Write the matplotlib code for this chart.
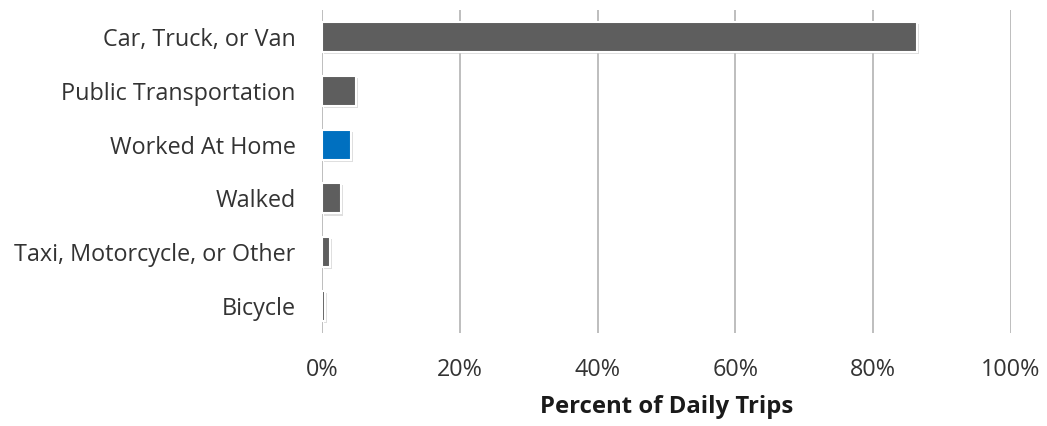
import matplotlib.pyplot as plt
import matplotlib.patheffects as pe
from matplotlib.ticker import PercentFormatter

# Data
modes = ['Car, Truck, or Van', 'Public Transportation', 'Worked At Home',
         'Walked', 'Taxi, Motorcycle, or Other', 'Bicycle']
shares = [86.3, 4.9, 4.2, 2.7, 1.1, 0.5]
colors = ['#5e5e5e', '#5e5e5e', '#0070C0', '#5e5e5e', '#5e5e5e', '#5e5e5e']
ticks = [0, 20, 40, 60, 80, 100]

plt.rcParams['font.family'] = ['Open Sans', 'DejaVu Sans']

fig = plt.figure(figsize=(10.47, 4.26), dpi=100)
ax = fig.add_axes([0.3075, 0.2183, 0.6581, 0.7582])

ypos = range(len(modes))
bars = ax.barh(ypos, shares, height=0.56, color=colors, edgecolor='white',
               linewidth=1.5, zorder=3)
for b in bars:
    b.set_path_effects([pe.SimplePatchShadow(offset=(1.5, -1.5), shadow_rgbFace='#c8c8c8', alpha=0.6),
                        pe.Normal()])

ax.set_xlim(0, 100)
ax.set_ylim(len(modes) - 0.5, -0.5)
ax.set_yticks(list(ypos))
ax.set_yticklabels(modes)
ax.set_xticks(ticks)
ax.xaxis.set_major_formatter(PercentFormatter(decimals=0))

ax.grid(axis='x', color='#b3b3b3', linewidth=1.2, zorder=0)
for s in ['top', 'right', 'bottom', 'left']:
    ax.spines[s].set_visible(False)
ax.tick_params(axis='y', length=0, pad=19, labelsize=16.8, labelcolor='#333333')
ax.tick_params(axis='x', length=0, pad=18, labelsize=16.8, labelcolor='#333333')
ax.set_xlabel('Percent of Daily Trips', fontsize=17.2, fontweight='bold',
              color='#1a1a1a', labelpad=9)

fig.savefig('out.png', dpi=100)
